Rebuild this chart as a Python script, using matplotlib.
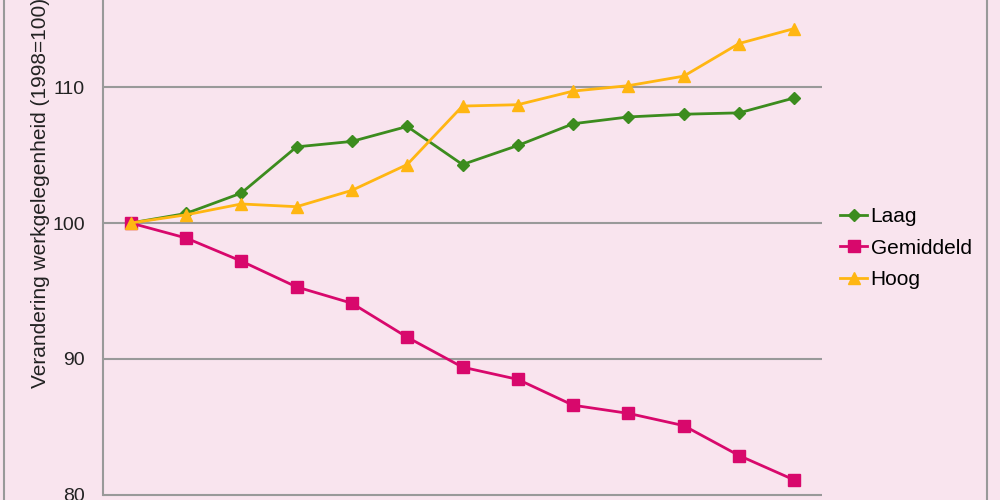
import numpy as np
import matplotlib.pyplot as plt
from matplotlib.patches import Rectangle

# Werkgelegenheid naar opleidingsniveau, index 1998=100
jaren = np.arange(13)
laag = [100, 100.7, 102.2, 105.6, 106.0, 107.1, 104.3, 105.7, 107.3, 107.8, 108.0, 108.1, 109.2]
gemiddeld = [100, 98.9, 97.2, 95.3, 94.1, 91.6, 89.4, 88.5, 86.6, 86.0, 85.1, 82.9, 81.1]
hoog = [100, 100.6, 101.4, 101.2, 102.4, 104.3, 108.6, 108.7, 109.7, 110.1, 110.8, 113.2, 114.3]
yticks = [80, 90, 100, 110]

bg = '#f9e4ee'
plt.rcParams['font.family'] = ['Liberation Sans', 'DejaVu Sans']

fig = plt.figure(figsize=(10, 5), dpi=100, facecolor=bg)
ax = fig.add_axes([0.103, 0.0, 0.719, 1.0])
ax.set_facecolor(bg)

ax.plot(jaren, laag, color='#3c8c1e', lw=2, marker='D', ms=6, label='Laag')
ax.plot(jaren, gemiddeld, color='#d8086c', lw=2, marker='s', ms=8, label='Gemiddeld')
ax.plot(jaren, hoog, color='#ffb612', lw=2, marker='^', ms=8, label='Hoog')

ax.set_xlim(-0.5, 12.5)
ax.set_ylim(79.63, 116.4)
ax.set_yticks(yticks)
ax.set_xticks([])
ax.tick_params(axis='y', length=0, pad=13, labelsize=14, labelcolor='#222222')
for y in yticks:
    ax.axhline(y, color='#999999', lw=1.5, zorder=0)
for s in ['top', 'right', 'bottom']:
    ax.spines[s].set_visible(False)
ax.spines['left'].set_color('#999999')
ax.spines['left'].set_linewidth(1.5)
ax.spines['left'].set_bounds(80, 116.4)

ax.set_ylabel('Verandering werkgelegenheid (1998=100)', fontsize=15, color='#222222')
ax.yaxis.set_label_coords(-0.074, 0.614)

leg = ax.legend(loc='center left', bbox_to_anchor=(1.014, 0.504), frameon=False,
                borderaxespad=0, fontsize=15, handlelength=1.3, handletextpad=0.15,
                labelspacing=0.6)

# outer frame
fig.patches.append(Rectangle((0.004, -0.1), 0.983, 1.2, transform=fig.transFigure,
                             fill=False, edgecolor='#999999', lw=1.5))

fig.savefig('out.png', dpi=100, facecolor=bg)
